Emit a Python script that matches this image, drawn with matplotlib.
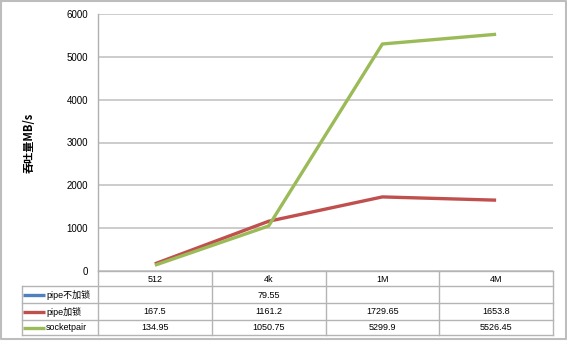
import matplotlib
matplotlib.use("Agg")
import matplotlib.pyplot as plt
import numpy as np

plt.rcParams['font.family'] = ['Liberation Sans', 'Noto Sans CJK SC', 'DejaVu Sans']

categories = ['512', '4k', '1M', '4M']
series_names = ['pipe不加锁', 'pipe加锁', 'socketpair']
pipe_nolock = [None, 79.55, None, None]
pipe_lock = [167.5, 1161.2, 1729.65, 1653.8]
socketpair = [134.95, 1050.75, 5299.9, 5526.45]
colors = ['#4F81BD', '#C0504D', '#9BBB59']
yticks = [0, 1000, 2000, 3000, 4000, 5000, 6000]
ylabel = '吞吐量MB/s'

W, H = 567, 341
fig = plt.figure(figsize=(W / 100, H / 100), dpi=100)

# pixel geometry
L, R, T, B = 98, 553, 14, 271
ax = fig.add_axes([L / W, 1 - B / H, (R - L) / W, (B - T) / H])
ax.set_xlim(-0.5, len(categories) - 0.5)
ax.set_ylim(0, 6000)
ax.set_yticks(yticks)
ax.set_yticklabels([str(v) for v in yticks], fontsize=7)
ax.set_xticks([])
ax.grid(axis='y', color='#C8C8C8', lw=1.3)
ax.set_axisbelow(True)
for s in ['top', 'right', 'bottom']:
    ax.spines[s].set_visible(False)
ax.spines['left'].set_color('#B0B0B0')
ax.spines['left'].set_linewidth(1.0)
ax.tick_params(axis='y', length=0, pad=7)
ax.set_ylabel(ylabel, fontsize=8, fontweight='bold', labelpad=22,
              family=['Noto Sans CJK SC', 'DejaVu Sans'])

x = np.arange(len(categories))
all_series = [pipe_nolock, pipe_lock, socketpair]
for vals, c in zip(all_series, colors):
    v = np.array([np.nan if a is None else a for a in vals], dtype=float)
    ax.plot(x, v, color=c, lw=2.4, solid_capstyle='butt', zorder=3)

# overlay for table and border in pixel coords
ov = fig.add_axes([0, 0, 1, 1])
ov.set_xlim(0, W)
ov.set_ylim(H, 0)
ov.axis('off')
ov.set_zorder(5)
ov.patch.set_alpha(0)

gc = '#B4B4B4'
# outer border
ov.plot([1, W - 1.5, W - 1.5, 1, 1], [1, 1, H - 2.5, H - 2.5, 1], color='#BDBDBD', lw=1.5)

col_edges = np.linspace(L, R, len(categories) + 1)
row_edges = [B, 286, 303, 320, 335]
tl = 22
ov.plot([L, R], [row_edges[0], row_edges[0]], color=gc, lw=1)
for y in row_edges[1:]:
    ov.plot([tl, R], [y, y], color=gc, lw=1)
for xe in col_edges:
    ov.plot([xe, xe], [row_edges[0], row_edges[-1]], color=gc, lw=1)
ov.plot([tl, tl], [row_edges[1], row_edges[-1]], color=gc, lw=1)

for i, cat in enumerate(categories):
    cx = (col_edges[i] + col_edges[i + 1]) / 2
    ov.text(cx, (row_edges[0] + row_edges[1]) / 2 + 0.5, cat, ha='center', va='center', fontsize=6.5)

for r, (name, vals, c) in enumerate(zip(series_names, all_series, colors)):
    cy = (row_edges[r + 1] + row_edges[r + 2]) / 2
    ov.plot([23, 45], [cy, cy], color=c, lw=2.4, solid_capstyle='butt')
    ov.text(46, cy + 0.5, name, ha='left', va='center', fontsize=6.5,
            family=['Liberation Sans', 'Noto Sans CJK SC'])
    for i, v in enumerate(vals):
        if v is None:
            continue
        cx = (col_edges[i] + col_edges[i + 1]) / 2
        ov.text(cx, cy + 0.5, f'{v:g}', ha='center', va='center', fontsize=6.5)

fig.savefig('out.png', dpi=100)
